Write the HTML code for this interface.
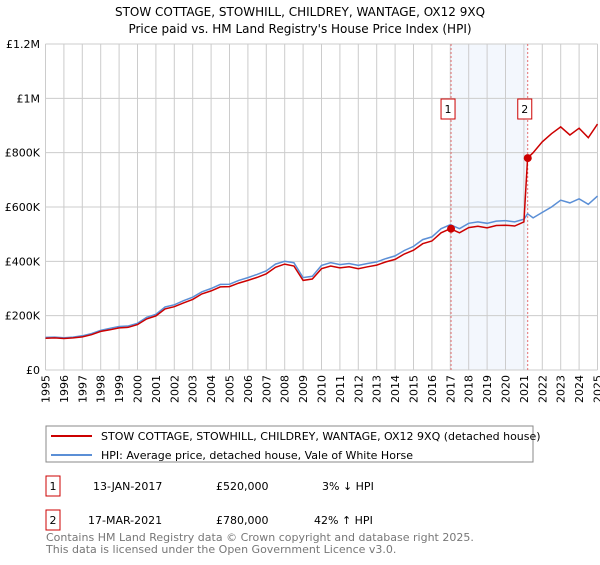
<!DOCTYPE html>
<html><head><meta charset="utf-8"><style>
body{margin:0;background:#fff;font-family:"Liberation Sans","DejaVu Sans",sans-serif;}
svg text{font-family:"DejaVu Sans","Liberation Sans",sans-serif;}
</style></head><body>
<svg width="600" height="560" viewBox="0 0 600 560">
<text x="300" y="16" text-anchor="middle" font-size="12" fill="#000">STOW COTTAGE, STOWHILL, CHILDREY, WANTAGE, OX12 9XQ</text>
<text x="300" y="33" text-anchor="middle" font-size="12" fill="#000">Price paid vs. HM Land Registry's House Price Index (HPI)</text>
<g id="plot"></g>
<g>
<rect x="46" y="426" width="487" height="36" fill="#fff" stroke="#888" stroke-width="1"/>
<line x1="51" y1="436" x2="92" y2="436" stroke="#cc0000" stroke-width="2"/>
<text x="101" y="440" font-size="11">STOW COTTAGE, STOWHILL, CHILDREY, WANTAGE, OX12 9XQ (detached house)</text>
<line x1="51" y1="455" x2="92" y2="455" stroke="#5b8fd6" stroke-width="2"/>
<text x="101" y="459" font-size="11">HPI: Average price, detached house, Vale of White Horse</text>
</g>
<g font-size="11">
<rect x="46" y="476" width="14" height="20" fill="#fff" stroke="#cc0000"/>
<text x="53" y="490" text-anchor="middle">1</text>
<text x="93" y="490">13-JAN-2017</text>
<text x="216" y="490">£520,000</text>
<text x="322" y="490">3% ↓ HPI</text>
</g>
<g font-size="11">
<rect x="46" y="510" width="14" height="20" fill="#fff" stroke="#cc0000"/>
<text x="53" y="524" text-anchor="middle">2</text>
<text x="88" y="524">17-MAR-2021</text>
<text x="216" y="524">£780,000</text>
<text x="314" y="524">42% ↑ HPI</text>
</g>
<text x="46" y="541" font-size="11" fill="#777">Contains HM Land Registry data © Crown copyright and database right 2025.</text>
<text x="46" y="553" font-size="11" fill="#777">This data is licensed under the Open Government Licence v3.0.</text>
</svg>
<script>
const years=[1995,1995.5,1996,1996.5,1997,1997.5,1998,1998.5,1999,1999.5,2000,2000.5,2001,2001.5,2002,2002.5,2003,2003.5,2004,2004.5,2005,2005.5,2006,2006.5,2007,2007.5,2008,2008.5,2009,2009.5,2010,2010.5,2011,2011.5,2012,2012.5,2013,2013.5,2014,2014.5,2015,2015.5,2016,2016.5,2017,2017.5,2018,2018.5,2019,2019.5,2020,2020.5,2021,2021.2,2021.5,2022,2022.5,2023,2023.5,2024,2024.5,2025];
const hpi=[120,121,119,121,126,134,146,153,160,162,172,194,205,232,240,255,268,288,300,315,316,330,340,352,365,390,400,395,340,345,385,395,388,392,385,392,398,410,420,440,455,480,490,520,535,520,540,545,540,548,550,545,555,575,560,580,600,625,615,630,610,640];
const price=[117,118,116,118,122,130,142,148,155,157,167,188,199,225,233,247,260,280,291,306,307,320,330,341,354,378,390,383,330,335,373,383,376,380,373,380,386,398,407,427,441,465,475,505,520,505,524,529,523,532,533,530,545,780,800,840,870,895,865,890,855,905];
const yTicks=[0,200,400,600,800,1000,1200];
const yTickLabels=["£0","£200K","£400K","£600K","£800K","£1M","£1.2M"];
const sales=[{n:"1",x:2017.04,v:520},{n:"2",x:2021.21,v:780}];
const NS="http://www.w3.org/2000/svg";
const L=45.5,R=597.5,T=44,B=370;
const xs=y=>L+(y-1995)/30*(R-L);
const ys=v=>B-v/1200*(B-T);
const g=document.getElementById('plot');
function mk(t,a){const e=document.createElementNS(NS,t);for(const k in a)e.setAttribute(k,a[k]);g.appendChild(e);return e;}
let sh=mk('rect',{x:xs(sales[0].x),y:T,width:xs(sales[1].x)-xs(sales[0].x),height:B-T,fill:'#eef3fc',opacity:0.7});


for(let y=1995;y<=2025;y++){
 let l=mk('line',{x1:xs(y),x2:xs(y),y1:T,y2:B,stroke:'#ccc','stroke-width':1});
 
 
 const tx=xs(y)+4, ty=375;
 let t=mk('text',{x:tx,y:ty,'text-anchor':'end','font-size':11,transform:`rotate(-90 ${tx} ${ty})`});
 t.textContent=y;
 
 
}
yTicks.forEach((v,i)=>{
 let l=mk('line',{x1:L,x2:R,y1:ys(v),y2:ys(v),stroke:'#ccc','stroke-width':1});
 
 
 let t=mk('text',{x:40,y:ys(v)+4,'text-anchor':'end','font-size':11});
 t.textContent=yTickLabels[i];
 
 
});
sales.forEach(s=>{
 let l=mk('line',{x1:xs(s.x),x2:xs(s.x),y1:T,y2:B,stroke:'#e05050','stroke-width':0.8,'stroke-dasharray':'2,2'});
 
 
 let r=mk('rect',{x:xs(s.x)-10,y:99,width:14,height:20,fill:'#fff',stroke:'#cc0000'});
 
 
 let t=mk('text',{x:xs(s.x)-3,y:113,'text-anchor':'middle','font-size':11});
 t.textContent=s.n;
 
 
});
const pts=a=>a.map((v,i)=>xs(years[i]).toFixed(1)+','+ys(v).toFixed(1)).join(' ');
let hl=mk('polyline',{points:pts(hpi),fill:'none',stroke:'#5b8fd6','stroke-width':1.5});


let pl=mk('polyline',{points:pts(price),fill:'none',stroke:'#cc0000','stroke-width':1.5});


sales.forEach(s=>{
 let c=mk('circle',{cx:xs(s.x),cy:ys(s.v),r:4,fill:'#cc0000'});
 
 
});
</script>
</body></html>
